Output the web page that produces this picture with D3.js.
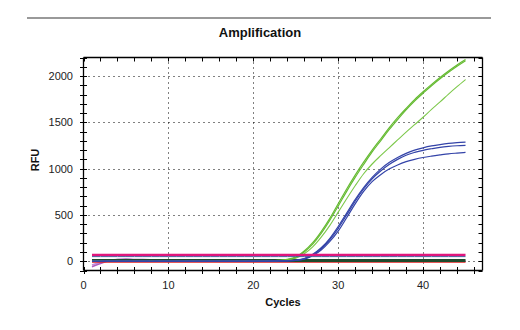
<!DOCTYPE html>
<html><head><meta charset="utf-8">
<script src="https://cdn.jsdelivr.net/npm/d3@7"></script>
<style>body{margin:0;background:#fff}svg{display:block}text{font-family:"Liberation Sans",Arial,sans-serif}</style>
</head><body>
<svg id="c" width="520" height="330"></svg>
<script>
const cycles = d3.range(1, 46);
const xTicks = [0, 10, 20, 30, 40];
const yTicks = [0, 500, 1000, 1500, 2000];
const greenA = [2,1,0,1,2,1,0,1,1,2,1,0,1,2,1,1,0,1,2,3,4,6,10,20,45,110,200,320,460,620,780,930,1070,1200,1320,1440,1550,1650,1745,1830,1910,1985,2055,2120,2178];
const greenB = [1,0,1,2,1,0,1,2,1,0,1,1,2,1,0,1,1,2,2,3,4,5,9,18,40,100,185,300,440,595,755,905,1045,1180,1300,1420,1530,1635,1730,1815,1895,1970,2040,2105,2165];
const greenC = [0,1,1,0,1,2,1,0,1,1,0,2,1,0,1,1,2,1,2,2,3,4,7,14,32,80,155,260,385,530,675,815,945,1050,1140,1225,1310,1395,1475,1555,1640,1720,1805,1885,1962];
const blue1 = [0,1,0,1,1,0,1,0,1,1,0,1,1,0,1,1,0,1,1,2,2,3,4,6,12,30,75,145,245,375,520,665,795,905,995,1065,1120,1165,1200,1225,1245,1260,1272,1280,1286];
const blue2 = [1,0,1,0,1,1,0,1,0,1,1,0,1,1,0,1,1,0,1,1,2,2,3,5,10,26,68,135,232,355,500,648,780,890,975,1045,1100,1145,1175,1198,1215,1230,1240,1247,1252];
const blue3 = [0,0,1,1,0,1,1,0,1,0,1,1,0,1,1,0,1,1,0,1,1,2,3,4,8,22,60,122,212,325,470,620,755,860,935,995,1040,1075,1100,1120,1135,1148,1160,1168,1175];
const purple1 = [-60,-25,5,20,25,20,18,15,12,10,8,6,5,4,3,3,2,2,1,1,1,0,0,0,0,0,0,0,0,0,0,0,0,0,0,0,0,0,0,0,0,0,0,0,0];
const purple2 = [-40,-10,10,18,15,14,12,10,9,8,6,5,4,3,2,2,1,1,1,0,0,0,0,0,0,0,0,0,0,0,0,0,0,0,0,0,0,0,0,0,0,0,0,0,0];
const magentaLine = cycles.map(() => 68);
const navyLine = cycles.map(() => 50);
const darkGreenLine = cycles.map(() => 8);
const redLine = cycles.map(() => -8);

const svg = d3.select("#c");
const x = d3.scaleLinear().domain([0, 47]).range([83.5, 482.5]);
const y = d3.scaleLinear().domain([-100, 2200]).range([270.5, 57.5]);

svg.append("line").attr("x1", 27).attr("x2", 491).attr("y1", 18).attr("y2", 18)
  .attr("stroke", "#777").attr("stroke-width", 1.5);

svg.append("text").attr("x", 260).attr("y", 37).attr("text-anchor", "middle")
  .attr("font-size", 13).attr("font-weight", "bold").attr("fill", "#111").text("Amplification");

const g = svg.append("g");
g.selectAll(".gx").data(xTicks.filter(d => d > 0)).join("line")
  .attr("x1", d => Math.round(x(d)) + 0.5).attr("x2", d => Math.round(x(d)) + 0.5)
  .attr("y1", y(2200)).attr("y2", y(-100))
  .attr("stroke", "#000").attr("stroke-dasharray", "1,4");
g.selectAll(".gy").data(yTicks).join("line")
  .attr("y1", d => Math.round(y(d)) + 0.5).attr("y2", d => Math.round(y(d)) + 0.5)
  .attr("x1", x(0)).attr("x2", x(47))
  .attr("stroke", "#000").attr("stroke-dasharray", "1,4");

const line = d3.line().x((d, i) => x(cycles[i])).y(d => y(d)).curve(d3.curveMonotoneX);
const series = [
  {v: purple2, c: "#c58ad8", w: 1.5},
  {v: purple1, c: "#b060c0", w: 1.5},
  {v: redLine, c: "#e02020", w: 1.5},
  {v: darkGreenLine, c: "#1d4a2c", w: 3},
  {v: greenC, c: "#7cc84a", w: 1.1},
  {v: greenB, c: "#66bb33", w: 1.2},
  {v: greenA, c: "#66bb33", w: 1.2},
  {v: blue3, c: "#3343a8", w: 1.2},
  {v: blue2, c: "#3343a8", w: 1.2},
  {v: blue1, c: "#3343a8", w: 1.2},
  {v: navyLine, c: "#4a5a9a", w: 1},
  {v: magentaLine, c: "#e0167c", w: 2.2}
];
svg.append("g").selectAll("path").data(series).join("path")
  .attr("d", d => line(d.v)).attr("fill", "none")
  .attr("stroke", d => d.c).attr("stroke-width", d => d.w);

const L = x(0), R = x(47), T = y(2200), B = y(-100);
const fr = svg.append("g").attr("stroke", "#000").attr("stroke-width", 1.3);
fr.append("line").attr("x1", L).attr("x2", L).attr("y1", T).attr("y2", B);
fr.append("line").attr("x1", R).attr("x2", R).attr("y1", T).attr("y2", B);
fr.append("line").attr("x1", L).attr("x2", R).attr("y1", T).attr("y2", T);
fr.append("line").attr("x1", L).attr("x2", R).attr("y1", B).attr("y2", B);

const yMinor = d3.range(-100, 2201, 100);
fr.selectAll(".ty").data(yMinor).join("line")
  .attr("x1", L - 3.5).attr("x2", L + 3.5)
  .attr("y1", d => Math.round(y(d)) + 0.5).attr("y2", d => Math.round(y(d)) + 0.5).attr("stroke-width", 1);
fr.selectAll(".tyr").data(yMinor).join("line")
  .attr("x1", R - 4).attr("x2", R)
  .attr("y1", d => Math.round(y(d)) + 0.5).attr("y2", d => Math.round(y(d)) + 0.5).attr("stroke-width", 1);
const xMinor = d3.range(0, 47, 2);
fr.selectAll(".tx").data(xMinor).join("line")
  .attr("y1", B - 3.5).attr("y2", B + 3.5)
  .attr("x1", d => Math.round(x(d)) + 0.5).attr("x2", d => Math.round(x(d)) + 0.5).attr("stroke-width", 1);
fr.selectAll(".txt").data(xMinor).join("line")
  .attr("y1", T).attr("y2", T + 4)
  .attr("x1", d => Math.round(x(d)) + 0.5).attr("x2", d => Math.round(x(d)) + 0.5).attr("stroke-width", 1);

svg.append("g").selectAll("text").data(yTicks).join("text")
  .attr("x", 73).attr("y", d => y(d) + 4).attr("text-anchor", "end")
  .attr("font-size", 11).attr("fill", "#222").text(d => d);
svg.append("g").selectAll("text").data(xTicks).join("text")
  .attr("x", d => x(d)).attr("y", 289).attr("text-anchor", "middle")
  .attr("font-size", 11).attr("fill", "#222").text(d => d);

svg.append("text").attr("x", 283).attr("y", 306).attr("text-anchor", "middle")
  .attr("font-size", 11).attr("font-weight", "bold").attr("fill", "#111").text("Cycles");
svg.append("text").attr("transform", "translate(39,160) rotate(-90)").attr("text-anchor", "middle")
  .attr("font-size", 11).attr("font-weight", "bold").attr("fill", "#111").text("RFU");
</script>
</body></html>
